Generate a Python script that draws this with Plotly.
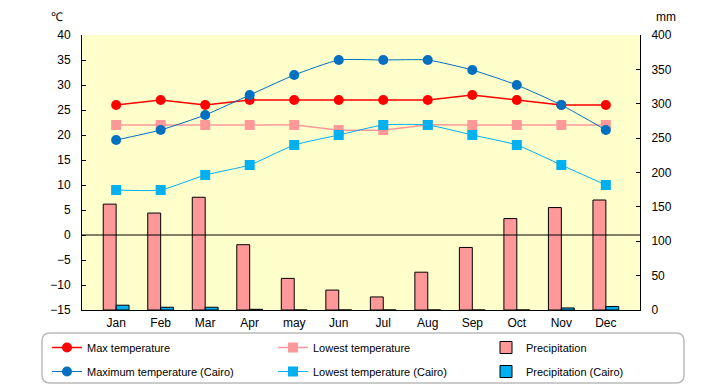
import plotly.graph_objects as go

months = ["Jan", "Feb", "Mar", "Apr", "may", "Jun", "Jul", "Aug", "Sep", "Oct", "Nov", "Dec"]
max_temp = [26, 27, 26, 27, 27, 27, 27, 27, 28, 27, 26, 26]
low_temp = [22, 22, 22, 22, 22, 21, 21, 22, 22, 22, 22, 22]
precip = [154, 141, 164, 95, 46, 29, 19, 55, 91, 133, 149, 160]
max_cairo = [19, 21, 24, 28, 32, 35, 35, 35, 33, 30, 26, 21]
low_cairo = [9, 9, 12, 14, 18, 20, 22, 22, 20, 18, 14, 10]
precip_cairo = [7, 4, 4, 1, 0, 0, 0, 0, 0, 0, 3, 5]

temp_ticks = list(range(-15, 45, 5))
mm_ticks = list(range(0, 450, 50))

FONT = "Liberation Sans, Arial, sans-serif"
L, R, T, B = 82, 80, 35, 75
W, H = 720, 385
PW, PH = W - L - R, H - T - B


def px(x):
    return (x - L) / PW


def py(y):
    return (H - B - y) / PH


fig = go.Figure()

fig.add_trace(go.Scatter(x=months, y=max_temp, name="Max temperature", mode="lines+markers",
                         line=dict(color="#FF0000", width=1.5), marker=dict(color="#FF0000", size=10),
                         yaxis="y2", legend="legend", legendgroup="a"))
fig.add_trace(go.Scatter(x=months, y=low_temp, name="Lowest temperature", mode="lines+markers",
                         line=dict(color="#FF9999", width=1.5, shape="spline", smoothing=0.5),
                         marker=dict(color="#FF9999", size=10, symbol="square"), yaxis="y2",
                         legend="legend2", legendgroup="b"))
fig.add_trace(go.Bar(x=months, y=precip, name="Precipitation",
                     marker=dict(color="#FF9999", line=dict(color="#000000", width=1)), yaxis="y",
                     legend="legend3", legendgroup="c"))
fig.add_trace(go.Scatter(x=months, y=max_cairo, name="Maximum temperature (Cairo)", mode="lines+markers",
                         line=dict(color="#0070C0", width=1, shape="spline", smoothing=0.5),
                         marker=dict(color="#0070C0", size=10), yaxis="y2",
                         legend="legend", legendgroup="d"))
fig.add_trace(go.Scatter(x=months, y=low_cairo, name="Lowest temperature (Cairo)", mode="lines+markers",
                         line=dict(color="#00B0F0", width=1, shape="spline", smoothing=0.5),
                         marker=dict(color="#00B0F0", size=10, symbol="square"), yaxis="y2",
                         legend="legend2", legendgroup="e"))
fig.add_trace(go.Bar(x=months, y=precip_cairo, name="Precipitation (Cairo)",
                     marker=dict(color="#00B0F0", line=dict(color="#000000", width=1)), yaxis="y",
                     legend="legend3", legendgroup="f"))

# rounded legend box
x0, x1 = px(42), px(684)
y0, y1 = py(383), py(333)
rx, ry = 8 / PW, 8 / PH
path = (f"M {x0+rx},{y1} L {x1-rx},{y1} Q {x1},{y1} {x1},{y1-ry} L {x1},{y0+ry} "
        f"Q {x1},{y0} {x1-rx},{y0} L {x0+rx},{y0} Q {x0},{y0} {x0},{y0+ry} "
        f"L {x0},{y1-ry} Q {x0},{y1} {x0+rx},{y1} Z")

leg_common = dict(orientation="v", yanchor="top", xanchor="left", bgcolor="rgba(0,0,0,0)",
                  font=dict(family=FONT, size=11, color="black"), tracegroupgap=5, itemwidth=30)

fig.update_layout(
    width=W, height=H,
    margin=dict(l=L, r=R, t=T, b=B, autoexpand=False),
    paper_bgcolor="white",
    plot_bgcolor="#FFFFCC",
    font=dict(family=FONT, size=12, color="black"),
    barmode="group",
    bargap=0.42,
    bargroupgap=0,
    showlegend=True,
    legend=dict(x=px(47), y=py(333), **leg_common),
    legend2=dict(x=px(273), y=py(333), **leg_common),
    legend3=dict(x=px(486), y=py(333), **leg_common),
    xaxis=dict(showgrid=False, showline=True, linecolor="black", linewidth=1,
               ticks="", tickfont=dict(size=12), fixedrange=True, ticklabelstandoff=2),
    yaxis=dict(side="right", range=[0, 400], tickvals=mm_ticks, showgrid=False, zeroline=False,
               showline=True, linecolor="black", linewidth=1, ticks="inside", ticklen=4,
               tickcolor="black", tickfont=dict(size=12), ticklabelstandoff=8),
    yaxis2=dict(side="left", overlaying="y", range=[-15, 40], tickvals=temp_ticks, showgrid=False,
                zeroline=False, showline=True, linecolor="black", linewidth=1, ticks="inside",
                ticklen=4, tickcolor="black", tickfont=dict(size=12), ticklabelstandoff=8),
    shapes=[
        dict(type="line", xref="paper", x0=0, x1=1, yref="y2", y0=0, y1=0,
             line=dict(color="black", width=1), layer="above"),
        dict(type="path", xref="paper", yref="paper", path=path,
             line=dict(color="#BBBBBB", width=1.5), fillcolor="rgba(0,0,0,0)", layer="below"),
    ],
    annotations=[
        dict(text="℃", xref="paper", yref="paper", x=px(57), y=py(17),
             showarrow=False, xanchor="center", yanchor="middle", font=dict(size=12)),
        dict(text="mm", xref="paper", yref="paper", x=px(666), y=py(17),
             showarrow=False, xanchor="center", yanchor="middle", font=dict(size=12)),
    ],
)

fig.write_html("out.html", config={"displayModeBar": False},
               post_script="document.body.style.margin='0px';document.body.style.overflow='hidden';")
